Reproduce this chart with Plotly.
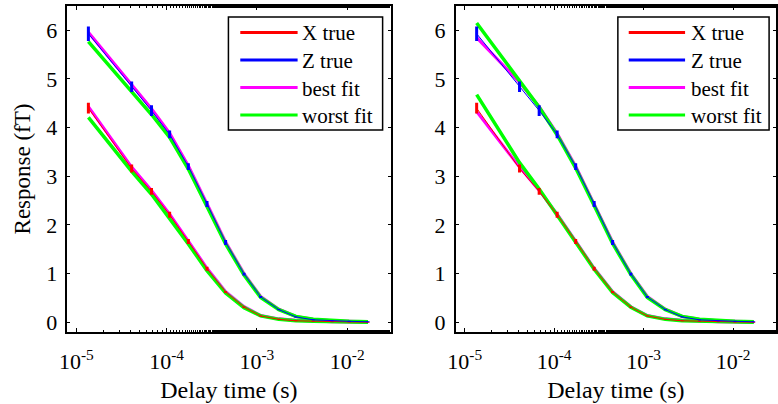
import plotly.graph_objects as go
from plotly.subplots import make_subplots

# Delay times (s)
t = [1.36e-5, 4.1e-5, 6.8e-5, 1.08e-4, 1.74e-4, 2.8e-4, 4.5e-4, 7.2e-4,
     1.1e-3, 1.75e-3, 2.7e-3, 4.2e-3, 6.8e-3, 1.05e-2, 1.7e-2]

x_true = [4.40, 3.16, 2.69, 2.21, 1.66, 1.10, 0.62, 0.31, 0.13, 0.06, 0.03, 0.02, 0.01, 0.005, 0.0]
x_err = [0.11, 0.08, 0.07, 0.06, 0.05, 0.04, 0.02, 0.015, 0.01, 0.01, 0.01, 0.01, 0.01, 0.01, 0.01]
z_true = [5.93, 4.84, 4.35, 3.86, 3.20, 2.43, 1.64, 0.99, 0.52, 0.26, 0.11, 0.05, 0.03, 0.02, 0.01]
z_err = [0.15, 0.11, 0.11, 0.08, 0.07, 0.06, 0.05, 0.03, 0.02, 0.015, 0.01, 0.01, 0.01, 0.01, 0.01]

# Left panel fits
best_x_left = [4.43, 3.19, 2.71, 2.22, 1.67, 1.11, 0.63, 0.32, 0.14, 0.07, 0.04, 0.02, 0.01, 0.005, 0.0]
worst_x_left = [4.21, 3.10, 2.63, 2.14, 1.61, 1.06, 0.60, 0.30, 0.13, 0.06, 0.03, 0.02, 0.01, 0.005, 0.0]
best_z_left = [5.96, 4.88, 4.39, 3.89, 3.22, 2.44, 1.65, 1.00, 0.53, 0.27, 0.12, 0.06, 0.03, 0.02, 0.01]
worst_z_left = [5.77, 4.76, 4.27, 3.80, 3.15, 2.38, 1.61, 0.97, 0.51, 0.26, 0.12, 0.06, 0.03, 0.02, 0.01]

# Right panel fits
best_x_right = [4.33, 3.19, 2.71, 2.22, 1.67, 1.11, 0.63, 0.32, 0.14, 0.07, 0.04, 0.02, 0.01, 0.005, 0.0]
worst_x_right = [4.68, 3.28, 2.74, 2.21, 1.65, 1.09, 0.61, 0.31, 0.13, 0.06, 0.03, 0.02, 0.01, 0.005, 0.0]
best_z_right = [5.85, 4.93, 4.43, 3.88, 3.21, 2.43, 1.65, 1.00, 0.53, 0.27, 0.12, 0.06, 0.03, 0.02, 0.01]
worst_z_right = [6.15, 4.95, 4.42, 3.85, 3.17, 2.40, 1.62, 0.98, 0.51, 0.26, 0.12, 0.06, 0.03, 0.02, 0.01]

legend_names = ["X true", "Z true", "best fit", "worst fit"]
x_tickvals = [1e-5, 1e-4, 1e-3, 1e-2]
x_ticktext = ["10<sup>-5</sup>", "10<sup>-4</sup>", "10<sup>-3</sup>", "10<sup>-2</sup>"]
y_tickvals = [0, 1, 2, 3, 4, 5, 6]

RED, BLUE, MAG, GRN = "#ff0000", "#0000ff", "#ff00ff", "#00ff00"
legend_colors = [RED, BLUE, MAG, GRN]
FONT = "Liberation Serif"

W, H = 778, 404
top, bot = 6, 332
ph = bot - top
fig = make_subplots(rows=1, cols=2)

panels = [
    (1, best_x_left, worst_x_left, best_z_left, worst_z_left),
    (2, best_x_right, worst_x_right, best_z_right, worst_z_right),
]

for col, bx, wx, bz, wz in panels:
    for ys in (bx, bz):
        fig.add_trace(go.Scatter(x=t, y=ys, mode="lines", name="best fit",
                                 line=dict(color=MAG, width=3), showlegend=False), row=1, col=col)
    for ys in (wx, wz):
        fig.add_trace(go.Scatter(x=t, y=ys, mode="lines", name="worst fit",
                                 line=dict(color=GRN, width=3.5), showlegend=False), row=1, col=col)
    for ys, es, c, nm in ((x_true, x_err, RED, "X true"), (z_true, z_err, BLUE, "Z true")):
        fig.add_trace(go.Scatter(x=t, y=ys, mode="lines", name=nm, line=dict(color=c, width=1),
                                 error_y=dict(type="data", array=es, color=c, thickness=3, width=0),
                                 showlegend=False), row=1, col=col)

pl, pr = 60, 387
ql, qr = 453, 777

axis_common = dict(showline=True, linecolor="black", linewidth=1.5, mirror="ticks",
                   ticks="inside", tickcolor="black", showgrid=False, zeroline=False)

for i, (a, b) in enumerate(((pl, pr), (ql, qr)), start=1):
    xa = "xaxis" if i == 1 else "xaxis2"
    ya = "yaxis" if i == 1 else "yaxis2"
    fig.update_layout({
        xa: dict(axis_common, type="log", range=[-5.1, -1.52], domain=[a / W, b / W],
                 tickvals=x_tickvals, ticktext=x_ticktext, ticklen=4, ticklabelstandoff=9,
                 tickfont=dict(family=FONT, size=22, color="black"),
                 minor=dict(ticks="inside", ticklen=2, tickcolor="black", showgrid=False),
                 title=dict(text="Delay time (s)", font=dict(family=FONT, size=24, color="black"),
                            standoff=8)),
        ya: dict(axis_common, range=[-0.2, 6.5], tickvals=y_tickvals, ticklen=3,
                 tickfont=dict(family=FONT, size=22, color="black"), ticklabelstandoff=4,
                 domain=[0, 1]),
    })

fig.update_layout(yaxis_title=dict(text="Response (fT)", font=dict(family=FONT, size=23, color="black"),
                                   standoff=9))

# Hand-drawn legend boxes (pixel positions converted to paper coordinates)
def px(xv):
    return xv / W

def py(yv):
    return 1 - (yv - top) / ph

shapes, annots = [], []
for bx0, bx1, lx0, lx1, tx in ((223, 379, 235, 293, 295), (617, 770, 628, 685, 689)):
    shapes.append(dict(type="rect", xref="paper", yref="paper", x0=px(bx0), x1=px(bx1),
                       y0=py(130), y1=py(17), line=dict(color="black", width=1.5),
                       fillcolor="white", layer="above"))
    for k, (nm, c) in enumerate(zip(legend_names, legend_colors)):
        yy = 32.5 + k * 27.5
        shapes.append(dict(type="line", xref="paper", yref="paper", x0=px(lx0), x1=px(lx1),
                           y0=py(yy), y1=py(yy), line=dict(color=c, width=3), layer="above"))
        annots.append(dict(text=nm, xref="paper", yref="paper", x=px(tx), y=py(yy + 1),
                           xanchor="left", yanchor="middle", showarrow=False,
                           font=dict(family=FONT, size=21, color="black")))

fig.update_layout(shapes=shapes, annotations=annots)

fig.update_layout(width=W, height=H, margin=dict(l=0, r=0, t=top, b=H - bot),
                  plot_bgcolor="white", paper_bgcolor="white", showlegend=False,
                  font=dict(family=FONT, color="black"))

fig.write_html("out.html", config={"displayModeBar": False},
               post_script="document.body.style.margin='0';document.body.style.padding='0';")
